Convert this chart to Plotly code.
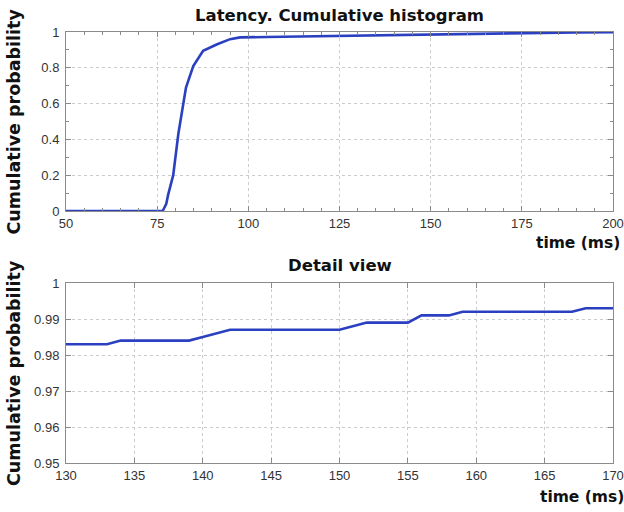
import plotly.graph_objects as go
from plotly.subplots import make_subplots

# Cumulative latency distribution (full range)
time_ms = [50, 76, 76.5, 77.5, 78, 79.4, 80.8, 82.9, 84.9, 87.6, 91.3, 95, 97.7,
           105, 115, 125, 130, 140, 150, 160, 170, 180, 190, 200]
cum_prob = [0, 0, 0.0, 0.04, 0.09, 0.20, 0.43, 0.69, 0.81, 0.895, 0.93, 0.96, 0.97,
            0.972, 0.975, 0.978, 0.983, 0.985, 0.987, 0.992, 0.993, 0.996, 0.998, 0.999]

# Detail of the tail between 130 and 170 ms
detail_ms = [130, 133, 134, 139, 140, 141, 142, 150, 151, 152, 155, 156, 158, 159, 167, 168, 170]
detail_prob = [0.983, 0.983, 0.984, 0.984, 0.985, 0.986, 0.987, 0.987, 0.988, 0.989,
               0.989, 0.991, 0.991, 0.992, 0.992, 0.993, 0.993]

top_xticks = [50, 75, 100, 125, 150, 175, 200]
top_yticks = [0, 0.2, 0.4, 0.6, 0.8, 1]
top_ylabels = ["0", "0.2", "0.4", "0.6", "0.8", "1"]
bot_xticks = [130, 135, 140, 145, 150, 155, 160, 165, 170]
bot_yticks = [0.95, 0.96, 0.97, 0.98, 0.99, 1]
bot_ylabels = ["0.95", "0.96", "0.97", "0.98", "0.99", "1"]

LINE = "#2b40c0"
AXIS = "#8a8a8a"
GRID = "#cccccc"
LABEL_FONT = dict(family="DejaVu Sans", size=15.5, color="#111")
TICK_FONT = dict(family="Liberation Sans", size=13, color="#333")

TOP_LO = 0.5847
BOT_HI = 0.4176

fig = make_subplots(rows=2, cols=1)

fig.add_trace(go.Scatter(x=time_ms, y=cum_prob, mode="lines",
                         line=dict(color=LINE, width=2.6), showlegend=False), row=1, col=1)
fig.add_trace(go.Scatter(x=detail_ms, y=detail_prob, mode="lines",
                         line=dict(color=LINE, width=2.6), showlegend=False), row=2, col=1)

axis_common = dict(
    showline=True, linecolor=AXIS, linewidth=1, mirror="ticks",
    ticks="inside", ticklen=5, tickcolor=AXIS,
    showgrid=True, gridcolor=GRID, griddash="dot", gridwidth=1,
    zeroline=False, tickfont=TICK_FONT, automargin=False,
)

fig.update_xaxes(axis_common)
fig.update_yaxes(axis_common, ticklabelstandoff=3)

fig.update_xaxes(range=[50, 200], tickvals=top_xticks,
                 minor=dict(dtick=5, tick0=50, ticks="inside", ticklen=3, tickcolor=AXIS, showgrid=False),
                 domain=[0, 1], row=1, col=1)
fig.update_yaxes(range=[0, 1], tickvals=top_yticks, ticktext=top_ylabels,
                 minor=dict(dtick=0.1, tick0=0, ticks="inside", ticklen=3, tickcolor=AXIS, showgrid=False),
                 domain=[TOP_LO, 1], row=1, col=1)
fig.update_xaxes(range=[130, 170], tickvals=bot_xticks, domain=[0, 1], row=2, col=1)
fig.update_yaxes(range=[0.95, 1], tickvals=bot_yticks, ticktext=bot_ylabels,
                 domain=[0, BOT_HI], row=2, col=1)

TITLE_FONT = dict(family="DejaVu Sans", size=16.5, color="#111")
YLAB_FONT = dict(family="DejaVu Sans", size=17.5, color="#111")

annotations = [
    dict(text="<b>Latency. Cumulative histogram</b>", x=0.5, y=1.0, xref="paper", yref="paper",
         xanchor="center", yanchor="middle", yshift=17, showarrow=False, font=TITLE_FONT),
    dict(text="<b>Detail view</b>", x=0.5, y=BOT_HI, xref="paper", yref="paper",
         xanchor="center", yanchor="middle", yshift=18, showarrow=False, font=TITLE_FONT),
    dict(text="<b>time (ms)</b>", x=1.0, y=TOP_LO, xref="paper", yref="paper",
         xanchor="right", yanchor="middle", xshift=9, yshift=-32, showarrow=False, font=LABEL_FONT),
    dict(text="<b>time (ms)</b>", x=1.0, y=0.0, xref="paper", yref="paper",
         xanchor="right", yanchor="middle", xshift=13, yshift=-34, showarrow=False, font=LABEL_FONT),
    dict(text="<b>Cumulative probability</b>", x=0, y=(TOP_LO + 1) / 2, xref="paper", yref="paper",
         xanchor="center", yanchor="middle", xshift=-52, textangle=-90, showarrow=False, font=YLAB_FONT),
    dict(text="<b>Cumulative probability</b>", x=0, y=BOT_HI / 2, xref="paper", yref="paper",
         xanchor="center", yanchor="middle", xshift=-52, textangle=-90, showarrow=False, font=YLAB_FONT),
]

fig.update_layout(
    width=624, height=512,
    margin=dict(l=66, r=11, t=32, b=49),
    paper_bgcolor="white", plot_bgcolor="white",
    annotations=annotations,
)

fig.write_html("out.html")
